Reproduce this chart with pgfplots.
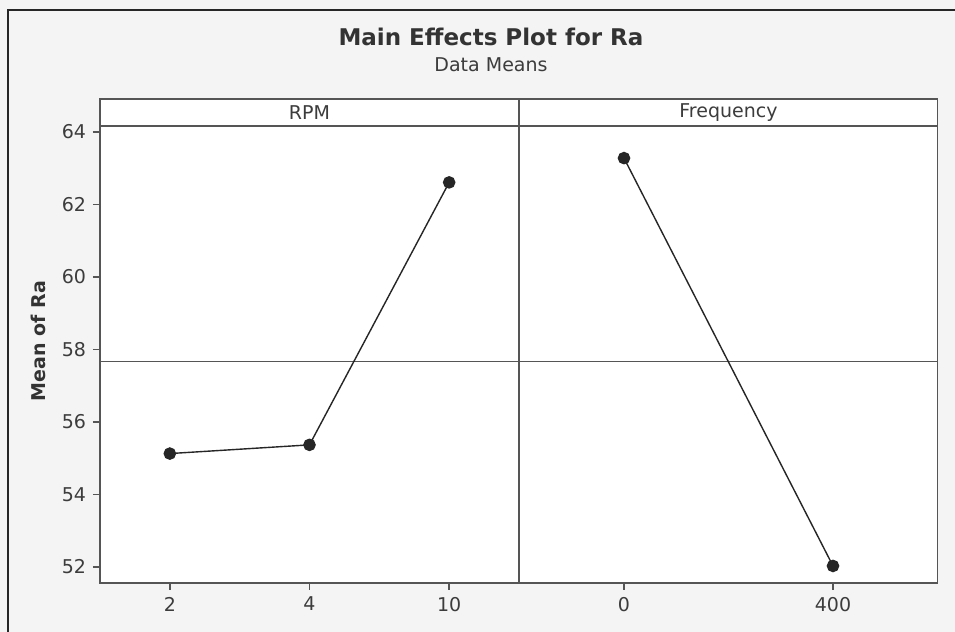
\documentclass[border=0pt]{standalone}
\usepackage{pgfplots}
\pgfplotsset{compat=1.18}
\usepackage{fontspec}
\setmainfont{DejaVu Sans}
\definecolor{framec}{RGB}{85,85,85}
\definecolor{bgc}{RGB}{244,244,244}
\definecolor{txtc}{RGB}{60,60,60}
\pgfplotsset{
  mepanel/.style={
    scale only axis, width=#1, height=242pt,
    anchor=south west,
    ymin=51.56, ymax=64.91,
    axis line style={framec, line width=0.8pt},
    axis background/.style={fill=white},
    tick style={framec, line width=0.7pt},
    major tick length=3.5pt,
    tick align=outside,
    xtick pos=bottom,
    /pgf/number format/assume math mode=true,
    tick label style={font=\fontsize{9.5}{11}\selectfont, text=txtc},
    clip=true,
  }
}
\begin{document}
\begin{tikzpicture}
\useasboundingbox (0,0) rectangle (477.5pt,316pt);
\fill[bgc] (0,0) rectangle (477.5pt,316pt);
\draw[black!85, line width=1.1pt] (4pt,0) -- (4pt,311pt) -- (477.5pt,311pt);
\node[font=\fontsize{11.5}{13}\selectfont\bfseries, text=black!80] at (245.5pt,297.5pt) {Main Effects Plot for Ra};
\node[font=\fontsize{9.5}{11}\selectfont, text=txtc] at (245.5pt,283.5pt) {Data Means};

\begin{axis}[mepanel=209.5pt, at={(50pt,24.5pt)},
  xmin=-0.5, xmax=2.5,
  xtick={0,1,2},
  xticklabels={2,4,10},
  ytick={52,54,56,58,60,62,64},
  ytick pos=left,
  ylabel={Mean of Ra},
  ylabel style={font=\fontsize{9.5}{11}\selectfont\bfseries, text=black!80, at={(axis description cs:-0.148,0.5)}, anchor=center},
]
\addplot[framec, line width=0.6pt, no marks, forget plot] coordinates {(-0.5,57.68) (2.5,57.68)};
\addplot[black!85, line width=0.7pt, mark=*, mark size=2.8pt, mark options={fill=black!85, draw=black!85}] coordinates {(0,55.13) (1,55.37) (2,62.61)};
\draw[framec, line width=0.8pt] (axis cs:-0.5,64.17) -- (axis cs:2.5,64.17);
\node[font=\fontsize{9.5}{11}\selectfont, text=txtc] at (axis cs:1,64.54) {RPM};
\end{axis}

\begin{axis}[mepanel=209pt, at={(259.75pt,24.5pt)},
  xmin=-0.5, xmax=1.5,
  xtick={0,1},
  xticklabels={0,400},
  ytick=\empty,
]
\addplot[framec, line width=0.6pt, no marks, forget plot] coordinates {(-0.5,57.68) (1.5,57.68)};
\addplot[black!85, line width=0.7pt, mark=*, mark size=2.8pt, mark options={fill=black!85, draw=black!85}] coordinates {(0,63.28) (1,52.03)};
\draw[framec, line width=0.8pt] (axis cs:-0.5,64.17) -- (axis cs:1.5,64.17);
\node[font=\fontsize{9.5}{11}\selectfont, text=txtc] at (axis cs:0.5,64.54) {Frequency};
\end{axis}
\end{tikzpicture}
\end{document}
